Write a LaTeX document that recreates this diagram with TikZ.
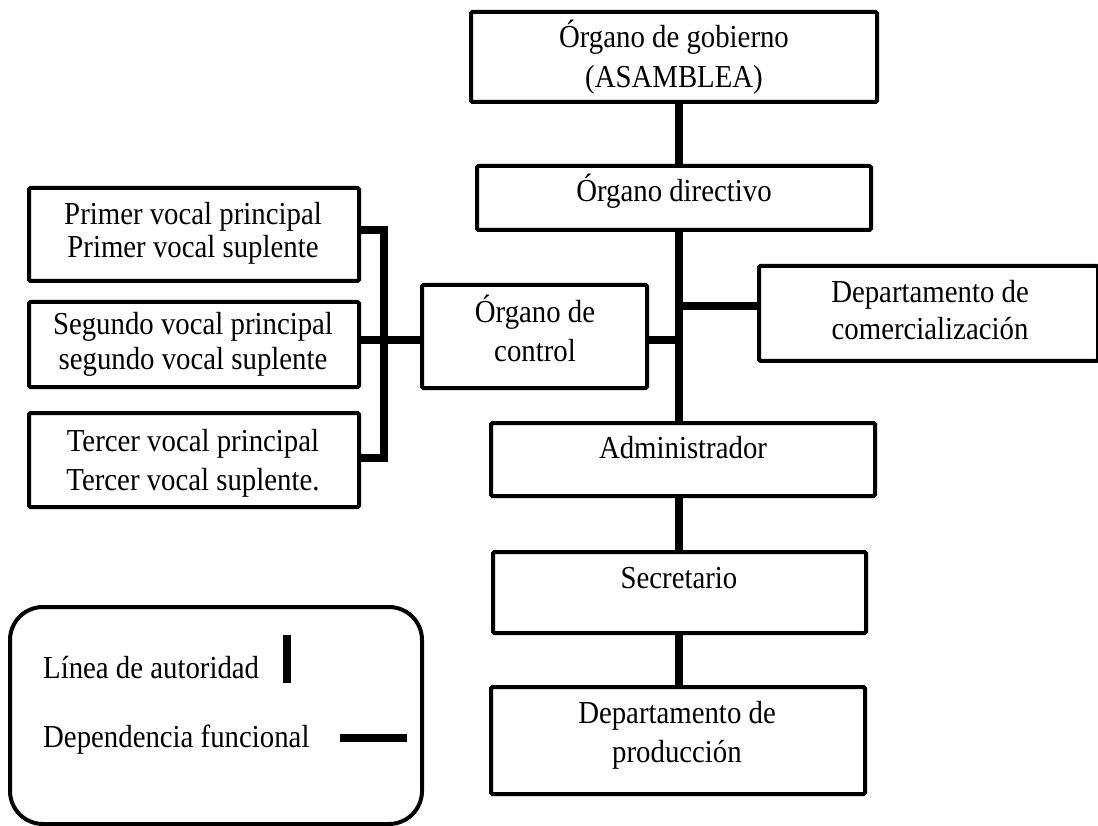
\documentclass[tikz,border=0pt]{standalone}
\usepackage{fontspec}
\setmainfont{Liberation Serif}
\newcommand{\Tx}[1]{\scalebox{0.9}[1.0]{#1}}
\begin{document}
\begin{tikzpicture}[x=1pt,y=-1pt,
  box/.style={draw=black,line width=4pt,rounded corners=1.5pt,inner sep=0pt},
  txt/.style={font=\fontsize{32}{38}\selectfont,anchor=base,inner sep=0pt},
  conn/.style={line width=8pt,draw=black},
  legendbox/.style={draw=black,line width=4pt,rounded corners=33pt}]
\useasboundingbox (0,0) rectangle (1098,826);
% boxes
\node[box,minimum width=406pt,minimum height=90pt] (gob) at (674,57) {};
\node[box,minimum width=394pt,minimum height=64pt] (dir) at (674,198) {};
\node[box,minimum width=339pt,minimum height=95pt] (com) at (928.5,313.5) {};
\node[box,minimum width=225pt,minimum height=103pt] (ctl) at (534.5,336.5) {};
\node[box,minimum width=330pt,minimum height=93pt] (v1) at (194,234.5) {};
\node[box,minimum width=330pt,minimum height=85pt] (v2) at (194,344.5) {};
\node[box,minimum width=330pt,minimum height=94pt] (v3) at (194,460) {};
\node[box,minimum width=384pt,minimum height=73pt] (adm) at (683,459.5) {};
\node[box,minimum width=373pt,minimum height=81pt] (sec) at (679.5,592.5) {};
\node[box,minimum width=374pt,minimum height=107pt] (pro) at (678,740.5) {};
% texts
\node[txt] (gobt1) at (674,48) {\Tx{Órgano de gobierno}};
\node[txt] (gobt2) at (674,88) {\Tx{(ASAMBLEA)}};
\node[txt] (dirt) at (674,202) {\Tx{Órgano directivo}};
\node[txt] (comt1) at (930,303) {\Tx{Departamento de}};
\node[txt] (comt2) at (930,340) {\Tx{comercialización}};
\node[txt] (ctlt1) at (535,323) {\Tx{Órgano de}};
\node[txt] (ctlt2) at (535,362) {\Tx{control}};
\node[txt] (v1t1) at (193,225) {\Tx{Primer vocal principal}};
\node[txt] (v1t2) at (193,258) {\Tx{Primer vocal suplente}};
\node[txt] (v2t1) at (193,335) {\Tx{Segundo vocal principal}};
\node[txt] (v2t2) at (193,370) {\Tx{segundo vocal suplente}};
\node[txt] (v3t1) at (193,451) {\Tx{Tercer vocal principal}};
\node[txt] (v3t2) at (193,490) {\Tx{Tercer vocal suplente.}};
\node[txt] (admt) at (683,458) {\Tx{Administrador}};
\node[txt] (sect) at (679,588) {\Tx{Secretario}};
\node[txt] (prot1) at (677,723) {\Tx{Departamento de}};
\node[txt] (prot2) at (677,762) {\Tx{producción}};
% junctions
\coordinate (tx) at (679,0);
\coordinate (j1) at (679,306);
\coordinate (j2) at (679,340);
\coordinate (b1) at (384,230);
\coordinate (b2) at (384,340);
\coordinate (b3) at (384,458);
% connectors
\draw[conn] (tx |- gob.south) -- (tx |- dir.north);
\draw[conn] (tx |- dir.south) -- (tx |- adm.north);
\draw[conn] (j1) -- (j1 -| com.west);
\draw[conn] (j2 -| ctl.east) -- (j2);
\draw[conn] (b1 -| v1.east) -- (b1) -- (b3) -- (b3 -| v3.east);
\draw[conn] (b2 -| v2.east) -- (b2 -| ctl.west);
\draw[conn] (tx |- adm.south) -- (tx |- sec.north);
\draw[conn] (tx |- sec.south) -- (tx |- pro.north);
% legend
\draw[legendbox] (10,607) rectangle (422,824);
\node[txt,anchor=base west] (leg1) at (43,678) {\Tx{Línea de autoridad}};
\node[txt,anchor=base west] (leg2) at (43,747) {\Tx{Dependencia funcional}};
\coordinate (la1) at (287,635);
\coordinate (la2) at (287,683);
\coordinate (lb1) at (340,738);
\coordinate (lb2) at (407,738);
\draw[conn] (la1) -- (la2);
\draw[conn] (lb1) -- (lb2);
\end{tikzpicture}
\end{document}
